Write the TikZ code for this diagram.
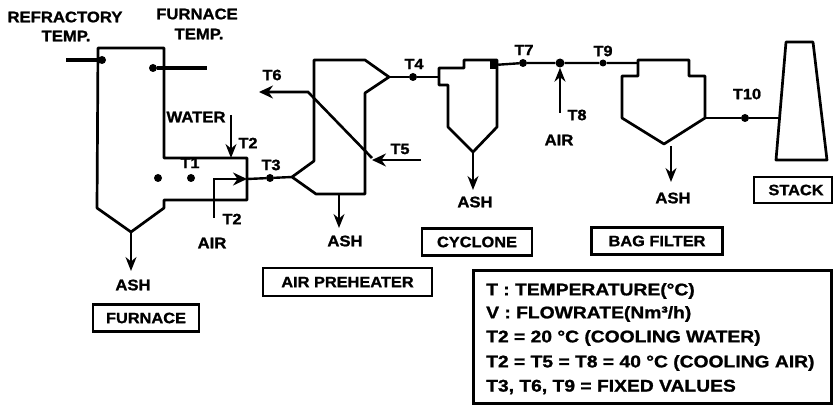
\documentclass[tikz,border=0pt]{standalone}
\usepackage{fontspec}
\setmainfont{Liberation Sans}
\newfontfamily\heavylab[FakeBold=1.2,FakeStretch=1.09]{Liberation Sans Bold}
\newfontfamily\heavyleg[FakeBold=1.2,FakeStretch=1.14]{Liberation Sans Bold}
\usetikzlibrary{arrows.meta}
\tikzset{
 lbl/.style={font=\fontsize{15.3}{15.3}\selectfont\heavylab,inner sep=0pt,text=black},
 tlbl/.style={font=\fontsize{15}{15}\selectfont\heavylab,inner sep=0pt,text=black},
 boxlbl/.style={draw=black,line width=2.8pt,font=\fontsize{15}{15}\selectfont\heavylab,inner sep=0pt,anchor=center},
 leg/.style={font=\fontsize{16.9}{16.9}\selectfont\heavyleg,inner sep=0pt,anchor=west},
 vessel/.style={draw=black,line width=2.7pt,line join=round},
 pipe/.style={draw=black,line width=2.4pt},
 bar/.style={draw=black,line width=4pt},
 flow/.style={draw=black,line width=1.6pt,-{Stealth[length=14pt,width=11pt]}},
 flowb/.style={draw=black,line width=2.6pt,-{Stealth[length=14pt,width=13pt]}},
 dotn/.style={circle,fill=black,inner sep=0pt,minimum size=8pt},
}
\begin{document}
\begin{tikzpicture}[x=1pt,y=-1pt]
\useasboundingbox (0,0) rectangle (833,406);
% furnace
\coordinate (fA) at (98,48);\coordinate (fB) at (164,48);\coordinate (fC) at (164,158);
\coordinate (fD) at (247,158);\coordinate (fE) at (247,200);\coordinate (fF) at (164,200);
\coordinate (fG) at (164,208);\coordinate (fH) at (131,232);\coordinate (fI) at (97,208);
\draw[vessel] (fA)--(fB)--(fC)--(fD)--(fE)--(fF)--(fG)--(fH)--(fI)--cycle;
% thermocouples
\node[dotn] (dR) at (102,60) {};
\coordinate (bR) at (66,60);
\draw[bar] (bR)--(dR);
\node[dotn] (dF) at (153,68) {};
\coordinate (bF) at (207,68);
\draw[bar] (dF)--(bF);
\node[dotn] (d1) at (158,178) {};
\node[dotn] (d2) at (191,178) {};
\node[lbl] (lR) at (65,17) {REFRACTORY};
\node[lbl] (lR2) at (66,36) {TEMP.};
\node[lbl] (lF) at (197,14) {FURNACE};
\node[lbl] (lF2) at (199,34) {TEMP.};
\node[lbl] (lW) at (196,117) {WATER};
\node[tlbl] (t1) at (190,163) {T1};
\node[tlbl] (t2a) at (248,143) {T2};
\node[tlbl] (t2b) at (232,219) {T2};
\node[lbl] (lA1) at (212,243) {AIR};
% water and air
\coordinate (wS) at (231,115);
\draw[flow] (wS)--(fD -| wS);
\coordinate (aS) at (214,218);\coordinate (aB) at (214,179);\coordinate (aE) at (247,179);
\draw[flowb] (aS)--(aB)--(aE);
% T3
\node[dotn] (d3) at (270,178) {};
\node[tlbl] (t3) at (271,165) {T3};
\coordinate (pA) at (292,177);
\draw[pipe] (aE)--(d3)--(pA);
% furnace ash
\coordinate (fAsh) at (131,271);
\draw[flow] (fH)--(fAsh);
\node[lbl] (a1) at (133,285) {ASH};
\node[boxlbl,minimum width=106pt,minimum height=27pt] (bFur) at (146,318) {FURNACE};
% preheater
\coordinate (pB) at (314,161);\coordinate (pC) at (314,60);\coordinate (pD) at (365,60);
\coordinate (pE) at (389,77);\coordinate (pF) at (365,93);\coordinate (pG) at (365,194);\coordinate (pH) at (316,194);
\draw[vessel] (pA)--(pB)--(pC)--(pD)--(pE)--(pF)--(pG)--(pH)--cycle;
\coordinate (t5S) at (421,160);\coordinate (t5E) at (372,158);\coordinate (t6K) at (308,92);\coordinate (t6E) at (259,92);
\draw[flowb] (t5S)--(t5E |- t5S);
\draw[flowb] (t5E)--(t6K)--(t6E);
\node[tlbl] (t5) at (400,149) {T5};
\node[tlbl] (t6) at (272,75) {T6};
\coordinate (pAsh0) at (339,194);\coordinate (pAsh) at (339,228);
\draw[flow] (pAsh0)--(pAsh);
\node[lbl] (a2) at (345,241) {ASH};
\node[boxlbl,minimum width=169pt,minimum height=28pt] (bAir) at (347.5,282) {AIR PREHEATER};
% T4
\node[dotn] (d4) at (413,77) {};
\node[tlbl] (t4) at (414,64) {T4};
\coordinate (cIn) at (439,77);
\draw[pipe] (pE)--(d4)--(cIn);
% cyclone
\coordinate (cA) at (439,68);\coordinate (cB) at (464,68);\coordinate (cC) at (464,60);\coordinate (cD) at (497,60);
\coordinate (cE) at (497,127);\coordinate (cF) at (473,152);\coordinate (cG) at (448,127);\coordinate (cH) at (448,85);\coordinate (cI) at (439,85);
\draw[vessel] (cA)--(cB)--(cC)--(cD)--(cE)--(cF)--(cG)--(cH)--(cI)--cycle;
\node[inner sep=0pt,fill=black,minimum width=8pt,minimum height=8pt] (cO) at (494,65) {};
\coordinate (cAsh) at (473,190);
\draw[flow] (cF)--(cAsh);
\node[lbl] (a3) at (475,202) {ASH};
\node[boxlbl,minimum width=110pt,minimum height=27pt] (bCyc) at (477,242) {CYCLONE};
% duct T7 T8 T9
\node[dotn] (d7) at (523,63) {};
\node[dotn,minimum size=9pt] (d8) at (560,63) {};
\node[dotn,minimum size=7pt] (d9) at (603,63) {};
\coordinate (bIn) at (638,63);
\draw[pipe] (cO)--(d7)--(d8)--(d9)--(bIn);
\node[tlbl] (t7) at (524,50) {T7};
\node[tlbl] (t9) at (603,51) {T9};
\coordinate (t8S) at (560,113);
\draw[flow] (t8S)--(d8);
\node[tlbl] (t8) at (577,115) {T8};
\node[lbl] (lA2) at (559,140) {AIR};
% bag filter
\coordinate (gA) at (638,60);\coordinate (gB) at (689,60);\coordinate (gC) at (689,76);\coordinate (gD) at (705,76);
\coordinate (gE) at (705,118);\coordinate (gF) at (664,144);\coordinate (gG) at (622,118);\coordinate (gH) at (622,76);\coordinate (gI) at (638,76);
\draw[vessel] (gA)--(gB)--(gC)--(gD)--(gE)--(gF)--(gG)--(gH)--(gI)--cycle;
\coordinate (gAsh0) at (671,146);\coordinate (gAsh) at (671,182);
\draw[flow] (gAsh0)--(gAsh);
\node[lbl] (a4) at (673,198) {ASH};
\node[boxlbl,minimum width=131pt,minimum height=27pt] (bBag) at (657,241) {BAG FILTER};
% stack
\coordinate (sA) at (786,42);\coordinate (sB) at (813,42);\coordinate (sC) at (827,160);\coordinate (sD) at (776,160);
\draw[vessel] (sA)--(sB)--(sC)--(sD)--cycle;
\node[dotn] (d10) at (745,118) {};
\coordinate (sIn) at (780,118);
\draw[pipe] (gE)--(d10)--(sIn);
\node[tlbl] (t10) at (747,94) {T10};
\node[boxlbl,minimum width=78pt,minimum height=26pt] (bSta) at (793,190) {\hspace*{6pt}STACK};
% legend
\node[draw=black,line width=2.8pt,minimum width=358pt,minimum height=133pt,inner sep=0pt] (lg) at (652.5,337) {};
\node[leg] (l1) at (486,291) {T : TEMPERATURE(°C)};
\node[leg] (l2) at (486,314) {V : FLOWRATE(Nm³/h)};
\node[leg] (l3) at (486,338) {T2 = 20 °C (COOLING WATER)};
\node[leg] (l4) at (486,363) {T2 = T5 = T8 = 40 °C (COOLING AIR)};
\node[leg] (l5) at (486,387) {T3, T6, T9 = FIXED VALUES};
\end{tikzpicture}
\end{document}
